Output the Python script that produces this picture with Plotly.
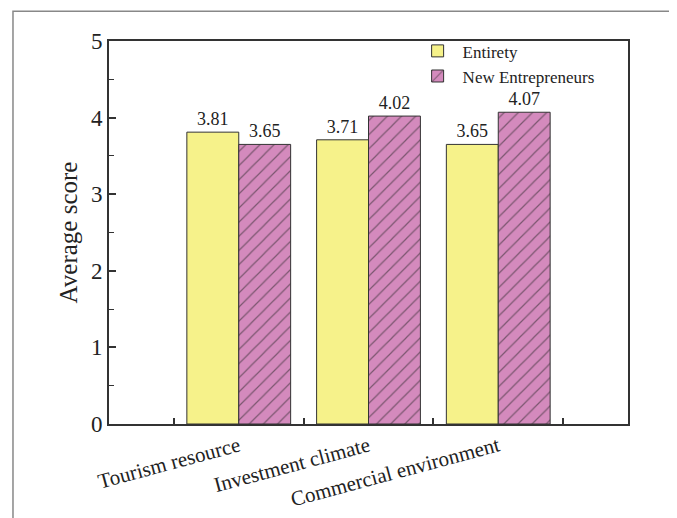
import plotly.graph_objects as go

categories = ["Tourism resource", "Investment climate", "Commercial environment"]
positions = [1, 2, 3]
entirety = [3.81, 3.71, 3.65]
new_entrepreneurs = [3.65, 4.02, 4.07]
y_ticks = [0, 1, 2, 3, 4, 5]

FONT = "Liberation Serif, Times New Roman, serif"

fig = go.Figure()
fig.add_trace(go.Bar(
    x=positions, y=entirety, name="Entirety",
    marker=dict(color="#F6F28A", line=dict(color="#333333", width=1)),
    text=[f"{v:.2f}" for v in entirety], textposition="outside",
    textfont=dict(family=FONT, size=18, color="#222"),
    cliponaxis=False,
))
fig.add_trace(go.Bar(
    x=positions, y=new_entrepreneurs, name="New Entrepreneurs",
    marker=dict(color="#D48ABD", line=dict(color="#333333", width=1),
                pattern=dict(shape="/", fgcolor="#222222", bgcolor="#D48ABD",
                             size=10, solidity=0.12)),
    text=[f"{v:.2f}" for v in new_entrepreneurs], textposition="outside",
    textfont=dict(family=FONT, size=18, color="#222"),
    cliponaxis=False,
))

fig.update_layout(
    width=677, height=518,
    margin=dict(l=101, r=57, t=33, b=102, autoexpand=False),
    paper_bgcolor="white", plot_bgcolor="white",
    barmode="group", bargap=0.2, bargroupgap=0,
    font=dict(family=FONT, color="#222"),
    showlegend=True,
    legend=dict(x=0.585, y=1.02, xanchor="left", yanchor="top",
                font=dict(family=FONT, size=17, color="#222"),
                bgcolor="rgba(0,0,0,0)", tracegroupgap=0, itemwidth=40),
    xaxis=dict(
        range=[0, 4], tickmode="array", tickvals=positions, ticktext=categories,
        tickangle=-15, ticks="", showgrid=False, zeroline=False,
        showline=True, linecolor="#333", linewidth=2, mirror=True,
        tickfont=dict(family=FONT, size=21, color="#222"),
        minor=dict(tickvals=[0.5, 1.5, 2.5, 3.5], ticks="inside", ticklen=6,
                   tickcolor="#333", tickwidth=2, showgrid=False),
    ),
    yaxis=dict(
        range=[0, 5], tickmode="array", tickvals=y_ticks,
        ticks="inside", ticklen=7, tickwidth=2, tickcolor="#333",
        showgrid=False, zeroline=False,
        showline=True, linecolor="#333", linewidth=2, mirror=True,
        tickfont=dict(family=FONT, size=23, color="#222"),
        title=dict(text="Average score", font=dict(family=FONT, size=25, color="#222"), standoff=6),
        minor=dict(dtick=0.5, ticks="inside", ticklen=5, tickcolor="#333", tickwidth=1, showgrid=False),
    ),
)

fig.add_shape(type="rect", xref="paper", yref="paper",
              x0=-0.185, x1=1.081, y0=-0.35, y1=1.078,
              line=dict(color="#888888", width=1.5), fillcolor="rgba(0,0,0,0)", layer="below")

fig.write_html("out.html")
